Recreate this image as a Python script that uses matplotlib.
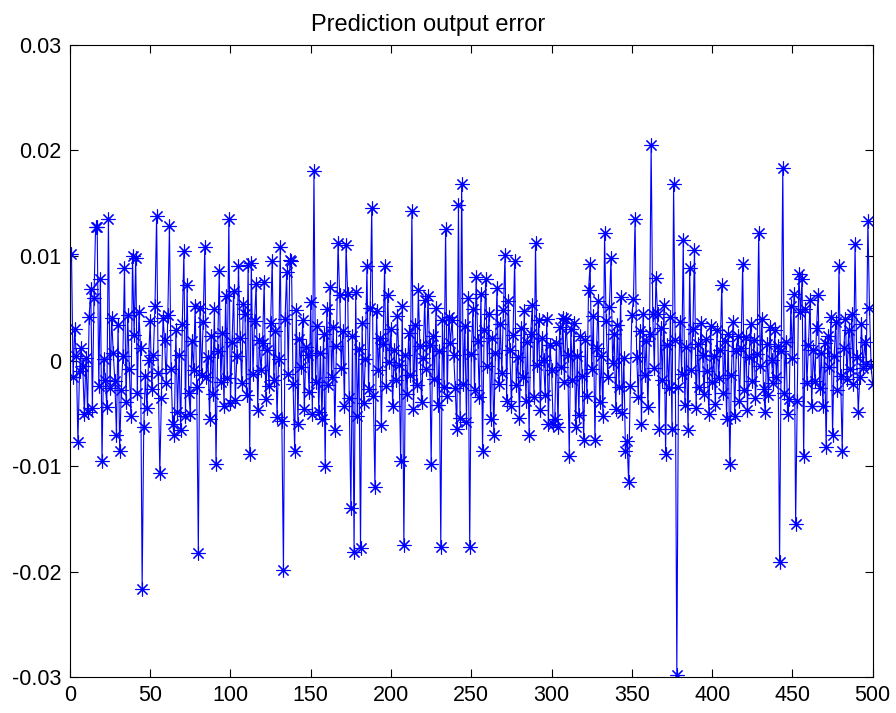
import numpy as np
import matplotlib
matplotlib.use("Agg")
import matplotlib.pyplot as plt

# --- data (in units of 1e-3) ---
err_milli = [
    10.2, -1.5, 3.0, 0.5, -7.7, -1.0, 1.2, -0.5, -5.0, 0.3, -4.8, 4.2, 6.8, -4.5, 6.0, 12.7, 12.7, -2.4, 7.8, -9.5,
    0.2, -1.8, -4.4, 13.5, -2.6, 4.1, 0.8, -1.9, -7.0, 3.4, -8.5, -2.8, 0.5, 8.8, -3.9, 4.4, -0.8, -5.2, 10.0, 2.5,
    9.8, -3.0, 4.6, 1.2, -21.6, -6.3, -1.4, -4.5, 0.1, 3.8, -2.7, 0.6, 5.2, 13.8, -1.1, -10.6, -3.5, 4.1, 2.0, -2.1,
    4.4, 12.8, -0.8, -6.0, -7.0, 2.9, -4.8, 0.6, -6.6, 3.5, 10.4, -5.2, 7.2, -3.0, -5.0, 1.9, -0.9, 5.2, -2.5, -18.2,
    5.0, -1.3, 3.7, 10.8, -1.5, 0.4, -5.5, 2.4, -3.1, 4.9, -9.8, 0.9, 8.5, -2.0, 2.7, -4.3, 6.2, -1.6, 13.5, -4.0,
    1.8, 6.6, -3.7, 0.5, 9.0, 2.2, -2.1, 5.4, 4.5, -3.2, 9.1, -8.8, 9.3, -1.2, 3.8, 7.3, -4.7, 2.0, -0.9, 1.7,
    7.5, -3.6, 1.0, -2.4, 3.6, 9.5, -1.8, 2.8, -5.3, 0.2, 10.8, -5.7, -19.8, 4.0, 8.4, -1.2, 9.6, 9.5, -2.2, -8.5,
    4.8, -6.0, 2.1, -0.6, 3.9, -4.6, 1.3, 0.6, -2.9, 5.6, -5.0, 18.0, -2.0, 3.3, -4.8, 0.8, -5.5, 2.6, -10.0, 4.9,
    -2.3, 7.0, -1.5, 3.2, -6.6, 1.4, 11.2, 6.3, -0.7, 2.8, -4.3, 11.0, 6.4, -3.5, -14.0, 2.4, -18.1, 6.5, -5.2, 1.1,
    -17.8, 3.6, -4.0, 0.2, 9.0, -2.7, 5.0, 14.5, -3.3, -12.0, 4.7, -0.9, 2.2, -6.1, 1.6, 9.0, -2.4, 6.3, -0.1, 3.0,
    -4.3, 1.0, -1.8, 4.3, -0.4, -9.5, 5.2, -17.5, 0.6, -3.1, 2.7, -1.3, 14.2, -4.6, 3.4, -2.3, 6.7, 1.4, -3.9, 0.3,
    5.8, -0.8, 6.2, 1.5, -9.8, 2.4, -1.7, 5.0, -4.2, 0.9, -17.7, 3.9, -2.5, 12.5, -3.3, 4.2, 1.7, 3.9, 0.6, -2.6,
    -6.5, 14.8, -5.4, 16.8, -2.2, 3.3, -5.8, 6.0, -17.7, 0.7, 4.9, -2.8, 8.0, 1.9, -3.4, 6.4, -8.5, 2.9, 7.8, -0.5,
    4.5, -5.5, 2.2, -7.0, 0.8, 6.9, -2.2, 3.5, -1.1, 4.8, 10.1, -3.8, 5.7, 1.0, -4.3, 2.5, 9.5, -2.3, 0.4, -5.4,
    3.1, -1.5, 4.7, -3.8, 1.8, -7.0, 2.6, 5.3, -3.4, 11.2, -0.4, 3.9, -4.7, 2.2, 0.1, -3.2, 4.0, -6.0, 1.5, -0.9,
    -6.0, -5.5, 1.7, -6.3, 3.2, -0.6, 4.1, -2.0, 4.0, 0.6, -9.0, 3.0, -1.8, 3.6, -6.3, 0.5, -5.1, 2.4, -1.4, -7.5,
    2.0, -3.3, 6.7, 9.2, -0.8, 4.3, -7.5, 1.2, 5.7, -3.9, 0.5, -5.2, 12.1, 3.8, -1.5, 5.1, 9.8, -0.2, 2.6, -4.6,
    3.4, -2.5, 6.1, -4.9, 0.3, -8.5, -7.6, -11.5, -2.4, 4.4, 5.9, 13.5, 0.4, -3.4, 2.8, -6.0, 4.5, -1.3, 1.9, -4.4,
    2.6, 20.5, 4.5, -0.7, 7.9, 4.5, -6.5, 3.1, -1.8, 5.3, -8.8, 1.5, -2.6, 4.2, -6.5, 16.8, 2.0, -29.8, -2.5, 3.7,
    -1.2, 11.5, -4.2, 1.3, -6.6, 8.8, -0.9, 3.0, 10.5, -4.5, 1.6, -2.5, 3.6, 0.6, -3.1, 2.1, -1.0, -5.0, 3.3, -2.0,
    0.5, -4.1, 2.9, -1.6, 1.0, 7.2, -3.0, 1.9, -5.5, 2.6, -9.8, -1.3, 3.7, -5.2, 0.9, 2.4, -3.8, 1.2, 9.2, -2.8,
    2.3, -4.7, 0.4, 3.5, -1.9, 2.0, -3.5, 0.7, 12.1, -0.5, 4.0, -2.7, -4.8, 1.6, -3.2, 3.2, 0.1, -2.1, 2.9, -1.5,
    1.4, -19.1, 0.9, 18.3, -3.0, 1.8, -5.0, -3.6, 5.2, 0.3, 6.4, -15.5, -3.8, 8.3, 4.6, 7.8, -9.0, 4.9, -2.1, 1.5,
    5.8, -4.3, 1.0, -1.9, 3.1, 6.3, -2.6, 0.8, -4.3, 1.7, -8.2, 2.4, -0.6, 4.2, -7.0, 0.5, 3.7, -2.8, 9.0, -1.4,
    -8.5, 1.2, 4.0, -1.7, 2.9, -0.8, 4.5, -2.2, 11.1, 0.4, -4.8, -1.5, 3.5, -0.7, 1.8, -0.3, 13.3, 5.0, -0.5, -2.2,
]
steps = np.arange(1, len(err_milli) + 1)
errors = np.array(err_milli) / 1000.0

x_ticks = [0, 50, 100, 150, 200, 250, 300, 350, 400, 450, 500]
y_ticks = [-0.03, -0.02, -0.01, 0, 0.01, 0.02, 0.03]
y_labels = ['-0.03', '-0.02', '-0.01', '0', '0.01', '0.02', '0.03']

plt.rcParams['font.family'] = ['Liberation Sans', 'DejaVu Sans']

fig = plt.figure(figsize=(8.96, 7.13), dpi=100)
ax = fig.add_axes([0.078, 0.0505, 0.896, 0.8865])

# matlab-style asterisk: 8 arms
ax.plot(steps, errors, color='#0000ff', linewidth=0.8, marker=(8, 2, 0),
        markersize=10, markeredgewidth=0.8)

ax.set_xlim(0, 500)
ax.set_ylim(-0.03, 0.03)
ax.set_xticks(x_ticks)
ax.set_yticks(y_ticks)
ax.set_yticklabels(y_labels)
ax.tick_params(direction='in', length=6, width=0.8, top=True, right=True,
               labelsize=15.5, pad=6)
for spine in ax.spines.values():
    spine.set_linewidth(0.8)

title = ax.set_title('Prediction output error', fontsize=17, pad=10)
title.set_x(0.446)

fig.savefig('out.png', dpi=100)
plt.close(fig)
